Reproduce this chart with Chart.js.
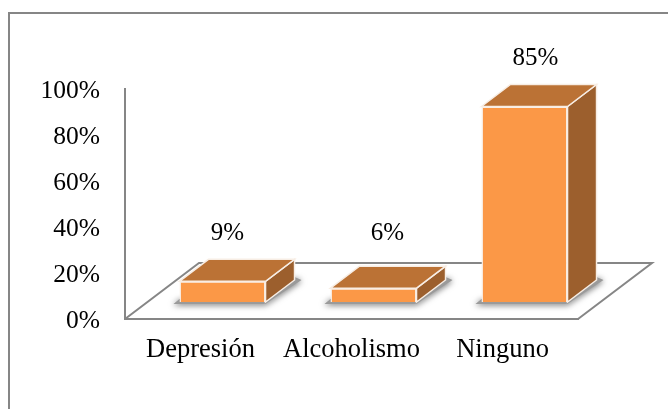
<!DOCTYPE html>
<html>
<head>
<meta charset="utf-8">
<script src="https://cdn.jsdelivr.net/npm/chart.js@4"></script>
<style>
    html, body { margin: 0; padding: 0; background: #fff; }
    #wrap { position: relative; width: 668px; height: 409px; overflow: hidden; }
    #frame { position: absolute; left: 8px; top: 12px; width: 700px; height: 500px; border: 2px solid #868686; box-sizing: border-box; }
    canvas { position: absolute; left: 0; top: 0; }
</style>
</head>
<body>
<div id="wrap">
    <div id="frame"></div>
    <canvas id="chart" width="668" height="409"></canvas>
</div>
<script>
const categories = ['Depresión', 'Alcoholismo', 'Ninguno'];
const values = [9, 6, 85];
const tickLabels = [0, 20, 40, 60, 80, 100];
const labelShiftX = [5, 14, 11];
const labelShiftY = [26, 33, 26];

const FONT = '"Liberation Serif", "Times New Roman", serif';
const FLOOR = { dx: 74, dy: -56 };
const BAR_SHIFT = { dx: 22, dy: -17 };
const BAR_DEPTH = { dx: 29, dy: -22 };

function poly(ctx, pts, fill, stroke) {
    ctx.beginPath();
    pts.forEach((p, i) => i ? ctx.lineTo(p[0], p[1]) : ctx.moveTo(p[0], p[1]));
    ctx.closePath();
    ctx.fillStyle = fill;
    ctx.fill();
    if (stroke) {
        ctx.strokeStyle = stroke;
        ctx.lineWidth = 1.5;
        ctx.stroke();
    }
}

// floor of the 3D box, behind the bars
const floorPlugin = {
    id: 'floor',
    beforeDatasetsDraw(chart) {
        const { ctx, chartArea: a } = chart;
        ctx.save();
        ctx.strokeStyle = '#868686';
        ctx.lineWidth = 2;
        ctx.beginPath();
        ctx.moveTo(a.left, a.bottom);
        ctx.lineTo(a.left + FLOOR.dx, a.bottom + FLOOR.dy);
        ctx.lineTo(a.right + FLOOR.dx, a.bottom + FLOOR.dy);
        ctx.lineTo(a.right, a.bottom);
        ctx.stroke();
        ctx.restore();
    }
};

// side and top faces and the floor shadow, moved onto the floor
const boxPlugin = {
    id: 'box',
    beforeDatasetDraw(chart) {
        const { ctx } = chart;
        ctx.save();
        ctx.translate(BAR_SHIFT.dx, BAR_SHIFT.dy);
        chart.getDatasetMeta(0).data.forEach(bar => {
            const l = bar.x - bar.width / 2, r = bar.x + bar.width / 2;
            const t = bar.y, b = bar.base;
            const d = BAR_DEPTH;
            ctx.save();
            ctx.shadowColor = 'rgba(0,0,0,0.6)';
            ctx.shadowBlur = 6;
            ctx.shadowOffsetX = 0;
            ctx.shadowOffsetY = 1;
            poly(ctx, [[l - 6, b + 2], [r, b + 2], [r + d.dx + 7, b + d.dy], [r + d.dx, b + d.dy - 3], [r, b - 3], [l, b - 3]], '#9a9a9a');
            ctx.restore();
            poly(ctx, [[r, t], [r + d.dx, t + d.dy], [r + d.dx, b + d.dy], [r, b]], '#9c5f2d', '#f7ede4');
            poly(ctx, [[l, t], [l + d.dx, t + d.dy], [r + d.dx, t + d.dy], [r, t]], '#bb7235', '#f7ede4');
        });
    },
    afterDatasetDraw(chart) {
        chart.ctx.restore();
    }
};

// percent labels over the bars
const valueLabels = {
    id: 'valueLabels',
    afterDraw(chart) {
        const { ctx } = chart;
        ctx.save();
        ctx.font = '25px ' + FONT;
        ctx.fillStyle = '#000';
        ctx.textAlign = 'center';
        ctx.textBaseline = 'middle';
        chart.getDatasetMeta(0).data.forEach((bar, i) => {
            const x = bar.x + BAR_SHIFT.dx + labelShiftX[i];
            const y = bar.y + BAR_SHIFT.dy + BAR_DEPTH.dy - labelShiftY[i];
            ctx.fillText(values[i] + '%', x, y);
        });
        ctx.restore();
    }
};

// y tick text sits 2px lower in the original
const nudgeYLabels = {
    id: 'nudgeYLabels',
    beforeDraw(chart) {
        const scale = chart.scales.y;
        if (scale._nudged) return;
        scale._nudged = true;
        const drawLabels = scale.drawLabels;
        scale.drawLabels = function(area) {
            chart.ctx.save();
            chart.ctx.translate(0, 2);
            drawLabels.call(scale, area);
            chart.ctx.restore();
        };
    }
};

new Chart(document.getElementById('chart').getContext('2d'), {
    type: 'bar',
    data: {
        labels: categories,
        datasets: [{
            data: values,
            backgroundColor: '#fb9847',
            borderColor: '#f9eee4',
            borderWidth: 1.5,
            categoryPercentage: 1,
            barPercentage: 0.57
        }]
    },
    options: {
        responsive: false,
        animation: false,
        layout: { padding: { left: 25, right: 90, top: 89, bottom: 40 } },
        plugins: { legend: { display: false }, tooltip: { enabled: false } },
        scales: {
            x: {
                grid: { display: false },
                border: { color: '#868686', width: 2 },
                ticks: { color: '#000', font: { family: FONT, size: 26.5 }, padding: 7, maxRotation: 0, autoSkip: false },
                afterFit(scale) { scale.height = 50; }
            },
            y: {
                min: 0,
                max: 100,
                afterBuildTicks(scale) { scale.ticks = tickLabels.map(v => ({ value: v })); },
                grid: { display: false },
                border: { color: '#868686', width: 2 },
                ticks: {
                    color: '#000',
                    padding: 17,
                    font: { family: FONT, size: 25.5 },
                    callback: v => v + '%'
                },
                afterFit(scale) { scale.width = 100; }
            }
        }
    },
    plugins: [floorPlugin, boxPlugin, valueLabels, nudgeYLabels]
});
</script>
</body>
</html>
